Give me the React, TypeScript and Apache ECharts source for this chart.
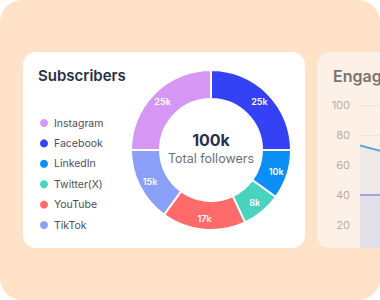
import React, { useEffect, useRef } from 'react';
import * as echarts from 'echarts';

// Subscribers donut (clockwise from the left horizontal)
const platforms = ['Instagram', 'Facebook', 'LinkedIn', 'Twitter(X)', 'YouTube', 'TikTok'];
const followersK = [25, 25, 10, 8, 17, 15];
const platformColors = ['#D597F3', '#3541F4', '#0B8FF5', '#48D3BF', '#FF6B6B', '#8A9FF8'];
const totalLabel = '100k';
const totalCaption = 'Total followers';

// Engagement (partially visible card)
const engageDays = ['Mon', 'Tue', 'Wed', 'Thu'];
const engageReach = [73, 66, 62, 60];
const engageClicks = [40, 40, 41, 42];
const engageTicks = [0, 20, 40, 60, 80, 100];

const FONT = 'Inter, "Noto Sans", sans-serif';

export default function App() {
  const ref = useRef<HTMLDivElement>(null);
  useEffect(() => {
    document.body.style.margin = '0';
    const chart = echarts.init(ref.current!, null, { renderer: 'svg' });
    chart.setOption({
      animation: false,
      textStyle: { fontFamily: FONT },
      title: {
        text: 'Subscribers',
        left: 38,
        top: 68,
        padding: 0,
        textStyle: { fontFamily: FONT, fontSize: 15, fontWeight: 600, color: '#283049' },
      },
      legend: {
        orient: 'vertical',
        left: 38,
        top: 117,
        padding: 0,
        icon: 'circle',
        itemWidth: 10,
        itemHeight: 10,
        itemGap: 8.4,
        data: platforms,
        textStyle: { fontFamily: FONT, fontSize: 10.5, color: '#4B4E60', lineHeight: 10, height: 10 },
        selectedMode: false,
      },
      graphic: [
        {
          type: 'rect', z: -10, silent: true,
          shape: { x: 0, y: 0, width: 380, height: 300, r: 22 },
          style: { fill: '#FFE2C7' },
        },
        {
          type: 'rect', z: -9, silent: true,
          shape: { x: 23, y: 52, width: 282, height: 196, r: 13 },
          style: { fill: '#FFFFFF' },
        },
        {
          type: 'rect', z: -9, silent: true,
          shape: { x: 317, y: 52, width: 120, height: 196, r: 13 },
          style: { fill: '#FDF1E7' },
        },
        {
          type: 'rect', z: 100, silent: true,
          shape: { x: 340, y: 248, width: 40, height: 20 },
          style: { fill: '#FFE2C7' },
        },
        {
          type: 'text', z: 100, left: 333, top: 68,
          style: { text: 'Engagement', font: `600 16px ${FONT}`, fill: '#7A7270' },
        },
        {
          type: 'text', z: 100, x: 211, y: 140,
          style: {
            text: totalLabel, font: `700 16px ${FONT}`, fill: '#283049',
            textAlign: 'center', textVerticalAlign: 'middle',
          },
        },
        {
          type: 'text', z: 100, x: 211, y: 158,
          style: {
            text: totalCaption, font: `400 12.5px ${FONT}`, fill: '#6C6F7E',
            textAlign: 'center', textVerticalAlign: 'middle',
          },
        },
      ],
      grid: { left: 360, top: 105, width: 120, height: 150, outerBoundsMode: 'none', containLabel: false },
      xAxis: {
        type: 'category', data: engageDays, boundaryGap: false, show: false,
      },
      yAxis: {
        type: 'value', min: engageTicks[0], max: engageTicks[engageTicks.length - 1], interval: 20,
        axisLine: { show: false }, axisTick: { show: false },
        axisLabel: { color: '#B5ACA8', fontSize: 11, margin: 10, fontFamily: FONT, showMinLabel: false },
        splitLine: { lineStyle: { color: '#F5E2DA', width: 1 } },
      },
      series: [
        {
          type: 'pie',
          center: [211, 150],
          radius: [51, 80],
          startAngle: 180,
          clockwise: true,
          avoidLabelOverlap: false,
          itemStyle: { borderColor: '#FFFFFF', borderWidth: 2 },
          label: {
            show: true, position: 'inside', color: '#FFFFFF', fontSize: 9, fontWeight: 600,
            fontFamily: FONT, formatter: (p: any) => `${p.value}k`,
          },
          labelLine: { show: false },
          emphasis: { disabled: true },
          data: platforms.map((name, i) => ({
            name, value: followersK[i], itemStyle: { color: platformColors[i] },
          })),
        },
        {
          type: 'line', name: 'Reach', data: engageReach, symbol: 'none',
          lineStyle: { color: '#5CA6DC', width: 2 },
          areaStyle: { color: '#ECE9E7', opacity: 1 },
          z: 3,
        },
        {
          type: 'line', name: 'Clicks', data: engageClicks, symbol: 'none',
          lineStyle: { color: '#A9A3E4', width: 2 },
          areaStyle: { color: 'rgba(190,185,235,0.22)', opacity: 1 },
          z: 4,
        },
      ],
    });
    return () => chart.dispose();
  }, []);
  return (
    <div style={{ position: 'fixed', left: 0, top: 0, width: 380, height: 300, background: '#FFFFFF' }}>
      <div ref={ref} style={{ width: 380, height: 300 }} />
    </div>
  );
}
